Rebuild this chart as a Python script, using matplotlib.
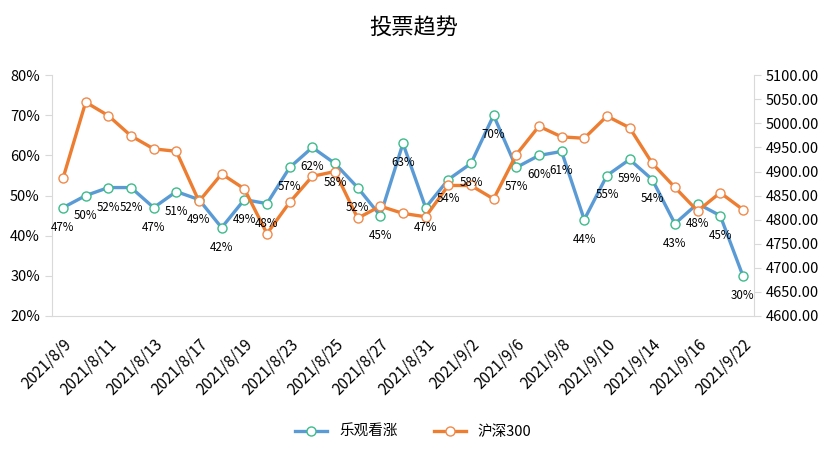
import matplotlib.pyplot as plt
from matplotlib.ticker import FuncFormatter

plt.rcParams["font.family"] = ["Noto Sans CJK SC", "DejaVu Sans"]

# 交易日
dates = [
    "2021/8/9", "2021/8/10", "2021/8/11", "2021/8/12", "2021/8/13",
    "2021/8/16", "2021/8/17", "2021/8/18", "2021/8/19", "2021/8/20",
    "2021/8/23", "2021/8/24", "2021/8/25", "2021/8/26", "2021/8/27",
    "2021/8/30", "2021/8/31", "2021/9/1", "2021/9/2", "2021/9/3",
    "2021/9/6", "2021/9/7", "2021/9/8", "2021/9/9", "2021/9/10",
    "2021/9/13", "2021/9/14", "2021/9/15", "2021/9/16", "2021/9/17",
    "2021/9/22",
]
# 乐观看涨 (%)
bullish = [47, 50, 52, 52, 47, 51, 49, 42, 49, 48, 57, 62, 58, 52, 45, 63,
           47, 54, 58, 70, 57, 60, 61, 44, 55, 59, 54, 43, 48, 45, 30]
# 沪深300
hs300 = [4886, 5044, 5016, 4974, 4947, 4942, 4838, 4895, 4864, 4771, 4836,
         4890, 4900, 4803, 4828, 4813, 4806, 4871, 4871, 4843, 4935, 4994,
         4972, 4969, 5015, 4991, 4917, 4867, 4818, 4856, 4821]

blue = "#5B9BD5"
orange = "#ED7D31"
grey = "#D9D9D9"

fig = plt.figure(figsize=(8.27, 4.73), dpi=100)
ax = fig.add_axes([0.0625, 0.332, 0.8495, 0.509])
ax2 = ax.twinx()

x = list(range(len(dates)))
l1, = ax.plot(x, [v / 100 for v in bullish], color=blue, lw=2.4,
              marker="o", ms=6.5, mfc="white", mec="#3DBB8C", mew=1.0,
              label="乐观看涨")
l2, = ax2.plot(x, hs300, color=orange, lw=2.4,
               marker="o", ms=6.5, mfc="white", mec="#F08A4B", mew=1.0,
               label="沪深300")

# 数据标签 (画在上层)
for i, v in enumerate(bullish):
    ax2.annotate(f"{v}%", (i, v / 100), xycoords=ax.transData,
                 xytext=(0, -14), textcoords="offset points",
                 ha="center", va="center", fontsize=8.3, color="#000000")

ax.set_ylim(0.2, 0.8)
ax.set_yticks([0.2, 0.3, 0.4, 0.5, 0.6, 0.7, 0.8])
ax.yaxis.set_major_formatter(FuncFormatter(lambda v, p: f"{v:.0%}"))
ax2.set_ylim(4600, 5100)
ax2.set_yticks(range(4600, 5101, 50))
ax2.yaxis.set_major_formatter(FuncFormatter(lambda v, p: f"{v:.2f}"))

ax.set_xlim(-0.5, len(dates) - 0.5)
ax.set_xticks(x[::2])
ax.set_xticklabels(dates[::2], rotation=45, ha="right", va="top",
                   rotation_mode="anchor", fontsize=11)
ax.tick_params(axis="x", length=0, pad=14)

for a in (ax, ax2):
    a.spines["top"].set_visible(False)
    for s in ("left", "right", "bottom"):
        a.spines[s].set_color(grey)
ax.spines["right"].set_visible(False)
ax2.spines["left"].set_visible(False)
ax2.spines["bottom"].set_visible(False)
ax.tick_params(axis="y", color=grey, length=5, labelsize=10.5, labelcolor="#000000")
ax2.tick_params(axis="y", color=grey, length=5, labelsize=10.5, labelcolor="#000000")

fig.text(0.5, 0.943, "投票趋势", ha="center", va="center", fontsize=16)

fig.legend(handles=[l1, l2], loc="center", bbox_to_anchor=(0.5, 0.087),
           ncol=2, frameon=False, fontsize=10.5, handlelength=2.2,
           columnspacing=2.5)

fig.savefig("out.png", dpi=100)
